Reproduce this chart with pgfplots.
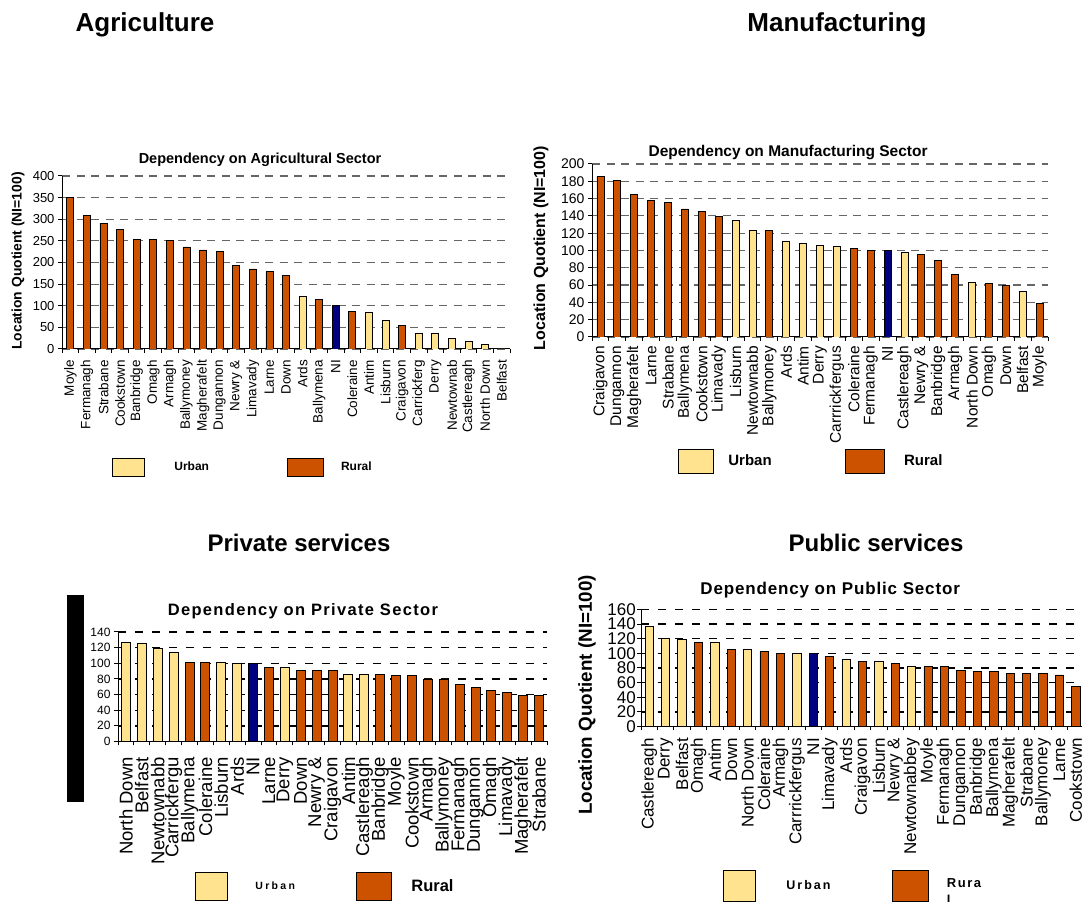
\documentclass[border=0pt]{standalone}
\usepackage{fontspec}
\setmainfont{Liberation Sans}
\usepackage{pgfplots}
\pgfplotsset{compat=1.18}

\definecolor{urban}{HTML}{FFE38F}
\definecolor{rural}{HTML}{CC5200}
\definecolor{nibar}{HTML}{000080}

\newcommand{\fsz}[1]{\fontsize{#1}{#1}\selectfont}

\pgfplotsset{
  lqchart/.style={
    scale only axis,
    ybar,
    enlargelimits=false,
    xmin=-0.5, xmax=26.5, ymin=0,
    axis x line=bottom, axis y line=left,
    axis line style={-, black, line width=1pt},
    tick align=outside,
    major tick length=4pt,
    tick style={black, line width=1pt},
    xtick={-0.5,0.5,...,26.5},
    x tick label as interval,
    xticklabel style={rotate=90, anchor=east, inner sep=0pt},
    ymajorgrids,
    /pgf/number format/assume math mode=true,
    legend columns=2,
    legend style={draw=none, fill=none, inner sep=0pt, outer sep=0pt,
      anchor=west, cells={anchor=west}, nodes={inner sep=0pt}},
  },
  ser/.style={fill=#1, draw=black, line width=0.8pt, bar shift=0pt},
  swatch/.style args={#1/#2/#3/#4}{legend image code/.code={%
      \draw[fill=#1, draw=black, line width=0.8pt] (0pt,-#3) rectangle (#2,#3);
      \path[draw=none, fill=none] (#2,0pt) -- (#4,0pt);}},
}

\begin{document}
\begin{tikzpicture}
\path[use as bounding box] (0pt,0pt) rectangle (1082pt,902pt);

% panel headings
\node[anchor=base, font=\bfseries\fsz{26}] at (145pt,870.3pt) {Agriculture};
\node[anchor=base, font=\bfseries\fsz{26}] at (837pt,870.3pt) {Manufacturing};
\node[anchor=base, font=\bfseries\fsz{24}] at (299pt,350.5pt) {Private services};
\node[anchor=base, font=\bfseries\fsz{24}] at (876pt,350.5pt) {Public services};

% ---------------- Agriculture ----------------
\begin{axis}[lqchart,
  at={(62pt,553pt)}, anchor=south west,
  width=448pt, height=173pt,
  ymax=400, ytick={0,50,...,400},
  bar width=7pt,
  major grid style={dash pattern=on 8pt off 6.5pt, black!60, line width=1.2pt},
  xticklabels={Moyle,Fermanagh,Strabane,Cookstown,Banbridge,Omagh,Armagh,Ballymoney,Magherafelt,Dungannon,Newry \&,Limavady,Larne,Down,Ards,Ballymena,NI,Coleraine,Antim,Lisburn,Craigavon,Carrickferg,Derry,Newtownab,Castlereagh,North Down,Belfast},
  xticklabel style={font=\fsz{13.5}},
  xticklabel shift=7pt,
  yticklabel style={font=\fsz{13}},
  title={Dependency on Agricultural Sector},
  title style={at={(axis description cs:0.442,1.058)}, anchor=center, font=\bfseries\fsz{14.5}},
  ylabel={Location Quotient (NI=100)},
  ylabel style={at={(axis description cs:-0.098,0.509)}, anchor=center, font=\bfseries\fsz{13.9}},
  legend style={at={(0.1116,-0.682)}, font=\bfseries\fsz{12},
    /tikz/every even column/.append style={column sep=78pt}},
]
\addplot[ser=urban, swatch={urban/32pt/9pt/62pt}] coordinates
  {(14,122) (18,84) (19,65) (21,35) (22,35) (23,25) (24,17) (25,11) (26,0)};
\addlegendentry{Urban}
\addplot[ser=rural, swatch={rural/35.6pt/9pt/53.6pt}] coordinates
  {(0,350) (1,309) (2,291) (3,277) (4,253) (5,253) (6,250) (7,236) (8,229) (9,226)
   (10,193) (11,185) (12,179) (13,171) (15,114) (17,87) (20,55)};
\addlegendentry{Rural}
\addplot[ser=nibar, forget plot] coordinates {(16,100)};
\end{axis}

% ---------------- Manufacturing ----------------
\begin{axis}[lqchart,
  at={(592pt,565pt)}, anchor=south west,
  width=456pt, height=173pt,
  ymax=200, ytick={0,20,...,200},
  bar width=7pt,
  major grid style={dash pattern=on 8pt off 6.5pt, black!60, line width=1.2pt},
  xticklabels={Craigavon,Dungannon,Magherafelt,Larne,Strabane,Ballymena,Cookstown,Limavady,Lisburn,Newtownabb,Ballymoney,Ards,Antim,Derry,Carrrickfergus,Coleraine,Fermanagh,NI,Castlereagh,Newry \&,Banbridge,Armagh,North Down,Omagh,Down,Belfast,Moyle},
  xticklabel style={font=\fsz{15.5}},
  xticklabel shift=5pt,
  yticklabel style={font=\fsz{14}},
  title={Dependency on Manufacturing Sector},
  title style={at={(axis description cs:0.43,1.029)}, anchor=center, font=\bfseries\fsz{15.5}},
  ylabel={Location Quotient (NI=100)},
  ylabel style={at={(axis description cs:-0.1118,0.514)}, anchor=center, font=\bfseries\fsz{16}},
  legend style={at={(0.1886,-0.717)}, font=\bfseries\fsz{15},
    /tikz/every even column/.append style={column sep=73pt}},
]
\addplot[ser=urban, swatch={urban/35pt/12pt/50pt}] coordinates
  {(8,135) (9,123) (11,110) (12,108) (13,106) (14,105) (18,98) (22,63) (25,53)};
\addlegendentry{Urban}
\addplot[ser=rural, swatch={rural/39pt/12pt/59pt}] coordinates
  {(0,186) (1,181) (2,165) (3,158) (4,156) (5,148) (6,145) (7,139) (10,123) (15,102)
   (16,100) (19,95) (20,88) (21,72) (23,61.5) (24,60) (26,39)};
\addlegendentry{Rural}
\addplot[ser=nibar, forget plot] coordinates {(17,100)};
\end{axis}

% ---------------- Private sector ----------------
\begin{axis}[lqchart,
  at={(118pt,160.5pt)}, anchor=south west,
  width=429pt, height=109.5pt,
  ymax=140, ytick={0,20,...,140},
  bar width=9pt,
  major grid style={dash pattern=on 8pt off 9pt, black, line width=1.3pt},
  xticklabels={North Down,Belfast,Newtownabb,Carrickfergu,Ballymena,Coleraine,Lisburn,Ards,NI,Larne,Derry,Down,Newry \&,Craigavon,Antim,Castlereagh,Banbridge,Moyle,Cookstown,Armagh,Ballymoney,Fermanagh,Dungannon,Omagh,Limavady,Magherafelt,Strabane},
  xticklabel style={font=\fsz{18.5}},
  xticklabel shift=11.5pt,
  yticklabel style={font=\fsz{12}},
  title={\addfontfeatures{LetterSpace=8}Dependency on Private Sector},
  title style={at={(axis description cs:0.431,1.137)}, anchor=center, font=\bfseries\fsz{16.5}},
  ylabel={\mbox{}},
  ylabel style={at={(axis description cs:-0.0991,0.393)}, anchor=center,
    fill=black, inner sep=0pt, minimum width=207pt, minimum height=17pt},
  legend style={at={(0.1795,-1.324)},
    /tikz/every even column/.append style={column sep=61pt}},
]
\addplot[ser=urban, swatch={urban/32pt/14pt/60pt}] coordinates
  {(0,127) (1,125) (2,119) (3,114) (6,101.5) (7,99.5) (10,95) (14,86) (15,86)};
\addlegendentry{{\bfseries\fsz{10.5}\addfontfeatures{LetterSpace=22}Urban}}
\addplot[ser=rural, swatch={rural/35pt/14pt/55pt}] coordinates
  {(4,101.5) (5,101.5) (9,95) (11,91) (12,91) (13,91) (16,86) (17,84) (18,84) (19,80)
   (20,80) (21,73) (22,69) (23,65) (24,63) (25,59) (26,59)};
\addlegendentry{{\bfseries\fsz{16.5}Rural}}
\addplot[ser=nibar, forget plot] coordinates {(8,100)};
\end{axis}

% ---------------- Public sector ----------------
\begin{axis}[lqchart,
  at={(641pt,175.5pt)}, anchor=south west,
  width=443pt, height=117pt,
  ymax=160, ytick={0,20,...,160},
  bar width=8.3pt,
  major grid style={dash pattern=on 8pt off 9pt, black, line width=1.3pt},
  xticklabels={Castlereagh,Derry,Belfast,Omagh,Antim,Down,North Down,Coleraine,Armagh,Carrrickfergus,NI,Limavady,Ards,Craigavon,Lisburn,Newry \&,Newtownabbey,Moyle,Fermanagh,Dungannon,Banbridge,Ballymena,Magherafelt,Strabane,Ballymoney,Larne,Cookstown},
  xticklabel style={font=\fsz{17}},
  xticklabel shift=7.5pt,
  yticklabel style={font=\fsz{17}, inner sep=1pt},
  title={\addfontfeatures{LetterSpace=5}Dependency on Public Sector},
  title style={at={(axis description cs:0.427,1.116)}, anchor=center, font=\bfseries\fsz{17}},
  ylabel={Location Quotient (NI=100)},
  ylabel style={at={(axis description cs:-0.1219,0.269)}, anchor=center, font=\bfseries\fsz{18.8}},
  legend style={at={(0.1844,-1.363)},
    /tikz/every even column/.append style={column sep=61pt}},
]
\addplot[ser=urban, swatch={urban/32.3pt/15.5pt/63.3pt}] coordinates
  {(0,137) (1,121) (2,119) (4,114.5) (6,105.5) (9,100.5) (12,92) (14,89) (16,82)};
\addlegendentry{{\bfseries\fsz{12.5}\addfontfeatures{LetterSpace=16}Urban}}
\addplot[ser=rural, swatch={rural/36pt/15.5pt/55pt}] coordinates
  {(3,114.5) (5,105.5) (7,103) (8,100.5) (11,96) (13,89) (15,86) (17,82) (18,82) (19,77)
   (20,75) (21,75) (22,73) (23,73) (24,73) (25,70.5) (26,54.5)};
\addlegendentry{{\bfseries\fontsize{13}{17.5}\selectfont\addfontfeatures{LetterSpace=12}\begin{tabular}{@{}l@{}}Rura\\l\end{tabular}}}
\addplot[ser=nibar, forget plot] coordinates {(10,100)};
\end{axis}
\end{tikzpicture}
\end{document}
